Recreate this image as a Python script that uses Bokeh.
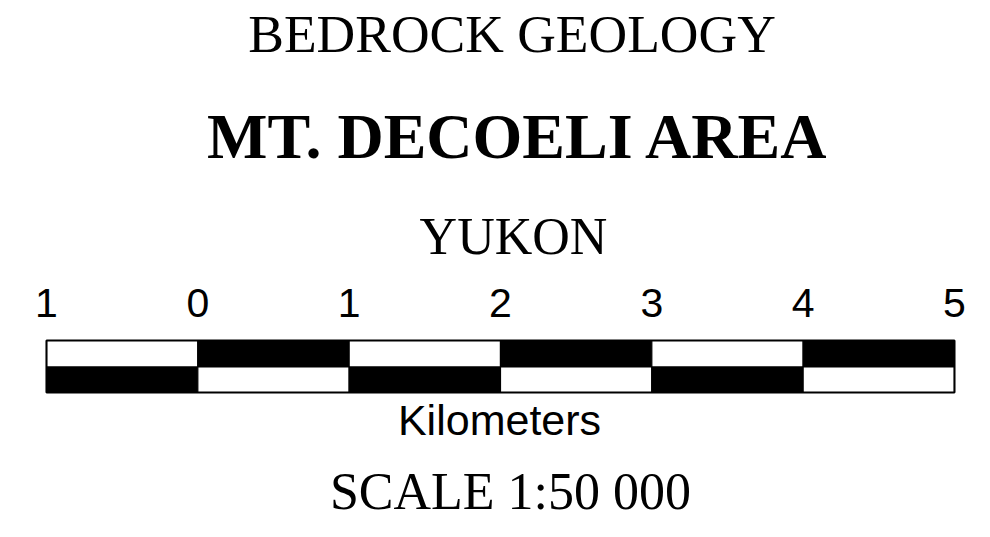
from bokeh.plotting import figure
from bokeh.models import Range1d
from bokeh.core.properties import value
from bokeh.embed import file_html
from bokeh.resources import INLINE

# ---- data ----
title_lines = ["BEDROCK GEOLOGY", "MT. DECOELI AREA", "YUKON"]
km_edges = [-1, 0, 1, 2, 3, 4, 5]
tick_labels = ["1", "0", "1", "2", "3", "4", "5"]
units_label = "Kilometers"
scale_label = "SCALE 1:50 000"

W, H = 974, 521
PX_PER_KM = 151.33
X0_PX = 46 + PX_PER_KM  # canvas x of km 0

def km_from_px(px):
    return (px - X0_PX) / PX_PER_KM

p = figure(width=W, height=H, output_backend="svg", toolbar_location=None,
           x_range=Range1d(km_from_px(0), km_from_px(W)),
           y_range=Range1d(H, 0), min_border=0,
           background_fill_color="white", border_fill_color="white")
p.axis.visible = False
p.grid.visible = False
p.outline_line_color = None

# scale bar segments
lefts = km_edges[:-1]
rights = km_edges[1:]
top_colors = ["white" if i % 2 == 0 else "black" for i in range(len(lefts))]
bot_colors = ["black" if i % 2 == 0 else "white" for i in range(len(lefts))]
BAR_TOP, BAR_MID, BAR_BOT = 340, 366.5, 392

p.quad(left=lefts, right=rights, top=[BAR_TOP] * len(lefts), bottom=[BAR_MID] * len(lefts),
       fill_color=top_colors, line_color="black", line_width=1.2)
p.quad(left=lefts, right=rights, top=[BAR_MID] * len(lefts), bottom=[BAR_BOT] * len(lefts),
       fill_color=bot_colors, line_color="black", line_width=1.2)
p.quad(left=[km_edges[0]], right=[km_edges[-1]], top=[BAR_TOP], bottom=[BAR_BOT],
       fill_color=None, line_color="black", line_width=2)

# tick labels
p.text(x=km_edges, y=[302] * len(km_edges), text=tick_labels,
       text_font=value("Liberation Sans"), text_font_size="41px",
       text_align="center", text_baseline="alphabetic", text_color="black")

# units label
p.text(x=[km_from_px(499)], y=[419], text=[units_label],
       text_font=value("Liberation Sans"), text_font_size="43px",
       text_align="center", text_baseline="alphabetic", text_color="black")

# titles
p.text(x=[km_from_px(511.5)], y=[33], text=[title_lines[0]],
       text_font=value("Liberation Serif"), text_font_size="53.5px",
       text_align="center", text_baseline="alphabetic", text_color="black")
p.text(x=[km_from_px(518)], y=[136], text=[title_lines[1]],
       text_font=value("Liberation Serif"), text_font_size="64px", text_font_style="bold",
       text_align="center", text_baseline="alphabetic", text_color="black")
p.text(x=[km_from_px(513)], y=[236], text=[title_lines[2]],
       text_font=value("Liberation Serif"), text_font_size="52px",
       text_align="center", text_baseline="alphabetic", text_color="black")
p.text(x=[km_from_px(510)], y=[490.5], text=[scale_label],
       text_font=value("Liberation Serif"), text_font_size="52px",
       text_align="center", text_baseline="alphabetic", text_color="black")

open("out.html", "w").write(file_html(p, INLINE))
